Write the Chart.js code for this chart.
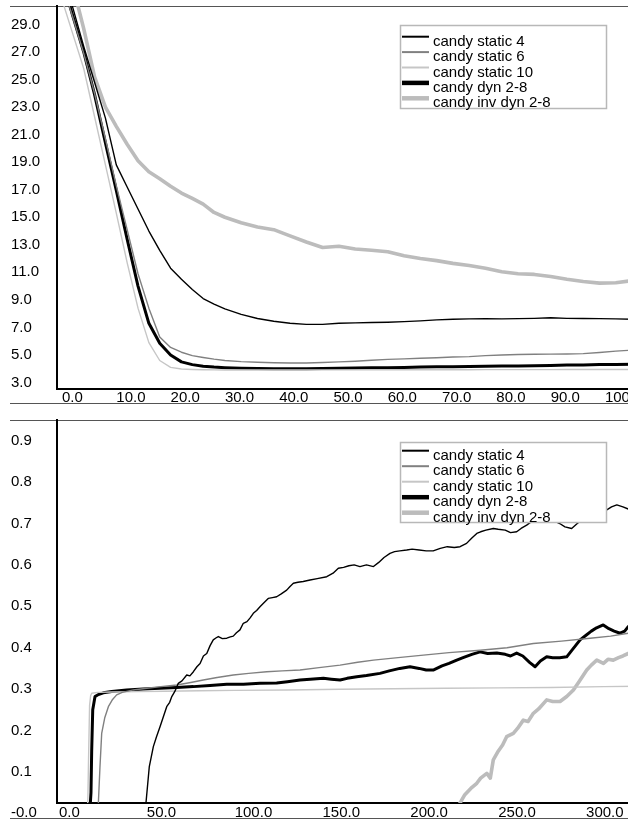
<!DOCTYPE html>
<html>
<head>
<meta charset="utf-8">
<script src="https://cdn.jsdelivr.net/npm/chart.js@4/dist/chart.umd.min.js"></script>
<style>
  html, body { margin: 0; padding: 0; background: #fff; overflow: hidden; width: 628px; height: 823px; }
  .wrap { position: absolute; left: 0; }
</style>
</head>
<body>
<div class="wrap" style="top:0"><canvas id="c1" width="650" height="410"></canvas></div>
<div class="wrap" style="top:410px"><canvas id="c2" width="650" height="413"></canvas></div>
<script>
// ---------- data ----------
const seriesNames = ['candy static 4', 'candy static 6', 'candy static 10', 'candy dyn 2-8', 'candy inv dyn 2-8'];

// top chart
const topX = [0,2,4,6,8,10,12,14,16,18,20,22,24,26,28,30,33,36,39,42,45,48,51,54,57,60,63,66,69,72,75,78,81,84,87,90,93,96,99,102,105,108,111];
const topStatic4 = [32.9,30.2,27.4,24.8,22.2,18.8,17.2,15.6,14.0,12.6,11.3,10.5,9.75,9.1,8.7,8.35,7.95,7.65,7.45,7.3,7.22,7.22,7.3,7.33,7.36,7.38,7.42,7.48,7.55,7.6,7.62,7.63,7.62,7.64,7.66,7.7,7.66,7.65,7.64,7.62,7.6,7.6,7.6];
const topStatic6 = [32.0,29.5,26.9,24.0,20.7,17.3,14.1,10.9,8.4,6.3,5.55,5.2,4.95,4.82,4.7,4.6,4.52,4.47,4.44,4.42,4.42,4.45,4.5,4.55,4.62,4.68,4.72,4.76,4.8,4.85,4.88,4.95,5.0,5.04,5.05,5.06,5.07,5.1,5.18,5.28,5.35,5.4,5.45];
const topStatic10 = [30.8,28.3,25.8,22.3,18.8,15.3,11.7,8.4,5.9,4.6,4.1,3.98,3.95,3.93,3.92,3.91,3.91,3.91,3.91,3.92,3.92,3.92,3.92,3.92,3.93,3.93,3.93,3.93,3.93,3.93,3.93,3.94,3.94,3.94,3.94,3.94,3.95,3.95,3.95,3.95,3.95,3.95,3.95];
const topDyn = [32.3,29.6,27.0,23.9,20.4,16.95,13.4,10.0,7.3,5.85,5.0,4.5,4.3,4.18,4.12,4.08,4.04,4.02,4.0,4.0,4.0,4.02,4.03,4.05,4.07,4.08,4.1,4.12,4.14,4.15,4.17,4.18,4.2,4.2,4.22,4.24,4.27,4.28,4.3,4.31,4.32,4.33,4.34];
const topInvDyn = [34.8,31.8,28.7,25.2,23.0,21.6,20.3,19.1,18.3,17.8,17.25,16.76,16.37,15.95,15.35,15.0,14.6,14.3,14.1,13.65,13.2,12.8,12.9,12.7,12.6,12.5,12.2,12.0,11.85,11.65,11.5,11.3,11.05,10.9,10.85,10.7,10.5,10.33,10.22,10.25,10.4,10.45,10.5];
const topXTicks = [0,10,20,30,40,50,60,70,80,90,100];
const topXTickLabels = ['0.0','10.0','20.0','30.0','40.0','50.0','60.0','70.0','80.0','90.0','100.0'];
const topYTicks = [3,5,7,9,11,13,15,17,19,21,23,25,27,29];
const topYTickLabels = ['3.0','5.0','7.0','9.0','11.0','13.0','15.0','17.0','19.0','21.0','23.0','25.0','27.0','29.0'];

// bottom chart
const botStatic4X = [0,45,49.5,51.4,53.7,55.5,57.5,59.4,61.3,63,64.2,66,67.9,70,72.7,74.5,76.5,78.5,80.3,82.2,84.1,86,87.8,89.5,90.7,93,95.5,97.5,99.2,101,103,104.9,107,108.8,110.6,112.5,114.4,116.5,119.1,121.5,123.9,126.5,129.6,131.5,133.4,136,139,142.9,147,152.4,156,159,162,165,168,171.3,175,179,182,185,188.4,191,194,197.9,201,205,209,213,217,221,225,228.3,232,235,237.8,240,243,247.2,250,254,257,260.5,263,266.2,270,275,280,285,288,291.8,295,298,301,305,308,311.8,314.5,317.5,321,324,328,334,340];
const botStatic4Y = [0,0,0.025,0.113,0.161,0.185,0.209,0.233,0.2575,0.268,0.282,0.295,0.314,0.32,0.334,0.332,0.342,0.354,0.362,0.38,0.386,0.405,0.419,0.424,0.427,0.422,0.423,0.426,0.428,0.436,0.443,0.459,0.463,0.472,0.483,0.49,0.499,0.508,0.519,0.521,0.523,0.53,0.539,0.548,0.5556,0.558,0.56,0.5635,0.567,0.5715,0.58,0.592,0.594,0.598,0.6,0.596,0.6,0.596,0.606,0.618,0.628,0.632,0.634,0.636,0.638,0.636,0.634,0.634,0.64,0.644,0.642,0.644,0.652,0.665,0.676,0.68,0.684,0.688,0.686,0.684,0.678,0.68,0.688,0.696,0.708,0.715,0.71,0.7,0.692,0.688,0.7,0.71,0.718,0.726,0.73,0.733,0.74,0.745,0.74,0.735,0.738,0.74,0.742];

const botStatic6X = [0,22,22.4,23.3,24.3,26,28.1,30.5,32.8,36,42.3,50,58,67,75,82.1,90,99.2,108,118.2,127,137.2,148,160,170,179,193,207.4,222,239.7,255,270,286,302.3,314,324,330,340];
const botStatic6Y = [0,0,0.025,0.11,0.193,0.23,0.2575,0.275,0.286,0.292,0.298,0.302,0.306,0.31,0.316,0.322,0.328,0.334,0.338,0.342,0.344,0.346,0.352,0.358,0.365,0.37,0.376,0.382,0.388,0.394,0.4,0.41,0.416,0.423,0.428,0.435,0.438,0.44];

const botStatic10X = [0,15.8,16.4,16.9,17.4,18,18.6,22,30,45,60,80,100,130,160,190,220,250,280,310,330,340];
const botStatic10Y = [0,0,0.03,0.15,0.26,0.284,0.29,0.292,0.293,0.294,0.295,0.296,0.297,0.298,0.2995,0.301,0.302,0.303,0.304,0.306,0.307,0.307];

const botDynX = [0,17.5,18.2,18.6,19.2,20.5,22,25.2,30,38.5,48,57.5,67,76.5,86,95.5,105,114.4,123.9,130,137.2,143,150.5,155,160,164,169.5,175,182.7,188,194,199.8,205,209,213,218,222,226.4,230,235,239.7,244,249.2,254,257,260.5,264,268,271,274,277.6,281,285,289,292,296.6,300,303,306,309.8,313,316,319.4,322,324,330,340];
const botDynY = [0,0,0.05,0.15,0.25,0.282,0.286,0.291,0.294,0.298,0.3,0.302,0.304,0.306,0.309,0.3115,0.312,0.314,0.315,0.318,0.322,0.324,0.326,0.324,0.322,0.326,0.33,0.333,0.338,0.344,0.35,0.354,0.35,0.346,0.346,0.356,0.362,0.37,0.376,0.384,0.39,0.386,0.387,0.384,0.38,0.387,0.38,0.364,0.354,0.368,0.378,0.376,0.376,0.378,0.394,0.419,0.43,0.44,0.448,0.455,0.446,0.44,0.435,0.44,0.451,0.452,0.455];

const botInvDynX = [0,226,228.3,231,234.4,237.8,240,243.5,245.5,247.2,250,252.5,254.8,258.6,261,264.3,267,270,273,277.6,281,285.2,289,292.8,296,300.4,303,306.1,309.9,312.5,315.5,318.5,321,324,330,340];
const botInvDynY = [0,0,0.025,0.045,0.06,0.0725,0.085,0.0966,0.085,0.129,0.15,0.165,0.185,0.193,0.205,0.225,0.222,0.2415,0.252,0.274,0.27,0.27,0.282,0.298,0.318,0.346,0.358,0.37,0.362,0.372,0.37,0.376,0.38,0.386,0.392,0.395];

const botXTicks = [0,50,100,150,200,250,300];
const botXTickLabels = ['0.0','50.0','100.0','150.0','200.0','250.0','300.0'];
const botYTicks = [0,0.1,0.2,0.3,0.4,0.5,0.6,0.7,0.8,0.9];
const botYTickLabels = ['-0.0','0.1','0.2','0.3','0.4','0.5','0.6','0.7','0.8','0.9'];

// ---------- styles ----------
const FONT = '"Liberation Sans", Arial, Helvetica, sans-serif';
const lineStyles = [
  { color: '#000000', width: 1.4, sample: 2 },
  { color: '#808080', width: 1.4, sample: 2 },
  { color: '#c6c6c6', width: 1.4, sample: 2 },
  { color: '#000000', width: 3.0, sample: 4.5 },
  { color: '#bcbcbc', width: 3.6, sample: 4.5 }
];

function zip(xs, ys) { return xs.map((x, i) => ({ x: x, y: ys[i] })); }

function makeDatasets(seriesPairs) {
  return seriesPairs.map((pts, i) => ({
    label: seriesNames[i],
    data: pts,
    borderColor: lineStyles[i].color,
    borderWidth: lineStyles[i].width,
    pointRadius: 0,
    tension: 0,
    fill: false,
    borderJoinStyle: 'round',
    borderCapStyle: 'butt'
  }));
}

const frameLines = {
  id: 'frameLines',
  beforeDraw(chart, args, opts) {
    const ctx = chart.ctx;
    ctx.save();
    ctx.strokeStyle = opts.color;
    ctx.lineWidth = 1;
    opts.ys.forEach(y => {
      ctx.beginPath();
      ctx.moveTo(opts.left, y + 0.5);
      ctx.lineTo(chart.width, y + 0.5);
      ctx.stroke();
    });
    ctx.restore();
  }
};

const boxLegend = {
  id: 'boxLegend',
  afterDatasetsDraw(chart, args, opts) {
    const ctx = chart.ctx;
    ctx.save();
    ctx.fillStyle = '#ffffff';
    ctx.fillRect(opts.x, opts.y, opts.w, opts.h);
    ctx.strokeStyle = '#b8b8b8';
    ctx.lineWidth = 1.5;
    ctx.strokeRect(opts.x + 0.5, opts.y + 0.5, opts.w, opts.h);
    ctx.font = '15px ' + FONT;
    ctx.textBaseline = 'alphabetic';
    ctx.textAlign = 'left';
    chart.data.datasets.forEach((ds, i) => {
      const ly = opts.y + opts.first + i * opts.step;
      ctx.strokeStyle = ds.borderColor;
      ctx.lineWidth = lineStyles[i].sample;
      ctx.beginPath();
      ctx.moveTo(opts.x + 2, ly);
      ctx.lineTo(opts.x + 29, ly);
      ctx.stroke();
      ctx.fillStyle = '#000';
      ctx.fillText(ds.label, opts.x + 33, ly + 9);
    });
    ctx.restore();
  }
};

function makeOptions(cfg) {
  return {
    responsive: false,
    animation: false,
    layout: { padding: { left: 11, top: cfg.padTop, right: 0, bottom: 0 } },
    plugins: {
      legend: { display: false },
      tooltip: { enabled: false },
      frameLines: { ys: cfg.frameYs, left: 10, color: '#555' },
      boxLegend: cfg.legend
    },
    scales: {
      x: {
        type: 'linear',
        min: cfg.xMin, max: cfg.xMax,
        grid: { display: false, drawTicks: false },
        border: { display: true, color: '#000', width: 2 },
        afterBuildTicks: s => { s.ticks = cfg.xTicks.map(v => ({ value: v })); },
        afterFit: s => { s.height = cfg.xHeight; s.paddingLeft = 0; s.paddingRight = 0; },
        ticks: {
          align: 'start', padding: cfg.xPad, maxRotation: 0, autoSkip: false,
          color: '#000', font: { family: FONT, size: 15 },
          callback: (v, i) => cfg.xLabels[i]
        }
      },
      y: {
        type: 'linear',
        min: cfg.yMin, max: cfg.yMax,
        grid: { display: false, drawTicks: false },
        border: { display: true, color: '#000', width: 2 },
        afterBuildTicks: s => { s.ticks = cfg.yTicks.map(v => ({ value: v })); },
        afterFit: s => { s.width = 46; s.paddingTop = 0; s.paddingBottom = 0; },
        ticks: {
          crossAlign: 'far', padding: 0, autoSkip: false,
          color: '#000', font: { family: FONT, size: 15 },
          callback: (v, i) => cfg.yLabels[i]
        }
      }
    }
  };
}

new Chart(document.getElementById('c1'), {
  type: 'line',
  data: { datasets: makeDatasets([
    zip(topX, topStatic4), zip(topX, topStatic6), zip(topX, topStatic10), zip(topX, topDyn), zip(topX, topInvDyn)
  ]) },
  options: makeOptions({
    padTop: 6, xHeight: 21, xPad: 0,
    xMin: -0.92, xMax: 108.3, yMin: 2.53, yMax: 30.34,
    xTicks: topXTicks, xLabels: topXTickLabels, yTicks: topYTicks, yLabels: topYTickLabels,
    frameYs: [6, 403],
    legend: { x: 400, y: 25, w: 206, h: 83, first: 11.7, step: 15.4 }
  }),
  plugins: [frameLines, boxLegend]
});

new Chart(document.getElementById('c2'), {
  type: 'line',
  data: { datasets: makeDatasets([
    zip(botStatic4X, botStatic4Y), zip(botStatic6X, botStatic6Y), zip(botStatic10X, botStatic10Y), zip(botDynX, botDynY), zip(botInvDynX, botInvDynY)
  ]) },
  options: makeOptions({
    padTop: 10, xHeight: 20, xPad: 1,
    xMin: -1.14, xMax: 336.4, yMin: 0.0249, yMax: 0.95,
    xTicks: botXTicks, xLabels: botXTickLabels, yTicks: botYTicks, yLabels: botYTickLabels,
    frameYs: [10, 408],
    legend: { x: 400, y: 32, w: 206, h: 80, first: 8.7, step: 15.5 }
  }),
  plugins: [frameLines, boxLegend]
});
</script>
</body>
</html>
